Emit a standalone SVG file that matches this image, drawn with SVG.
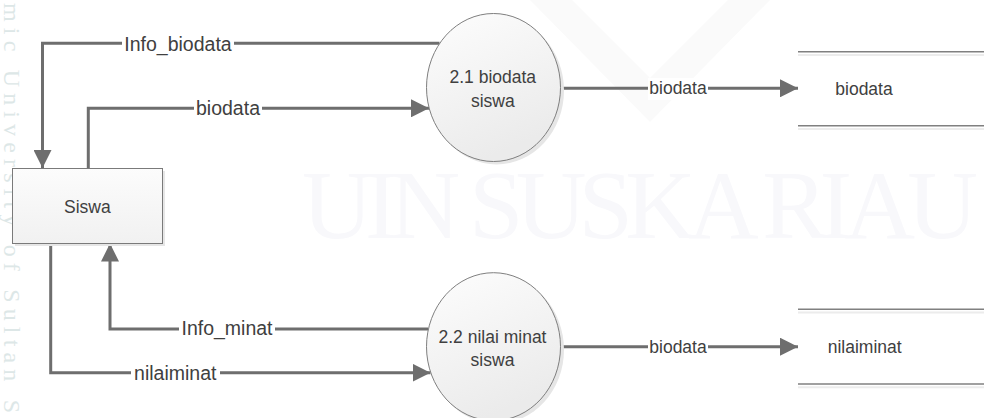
<svg xmlns="http://www.w3.org/2000/svg" width="984" height="418" viewBox="0 0 984 418">
  <style>
    .wm { font-family: "Liberation Serif", "DejaVu Serif", serif; }
    .node-text { font-family: "Liberation Sans", Arial, sans-serif; font-size: 17.5px; fill: #404040; text-anchor: middle; }
    .lbl-l { font-family: "Liberation Sans", Arial, sans-serif; font-size: 19.5px; fill: #404040; text-anchor: middle; }
    .lbl-r { font-family: "Liberation Sans", Arial, sans-serif; font-size: 17.5px; fill: #404040; text-anchor: middle; }
    .flow { fill: none; stroke: #6e6e6e; stroke-width: 3; }
    .proc { fill: url(#procGrad); stroke: #7f7f7f; stroke-width: 1; }
    .shadow { fill: #e6e6e6; }
    .store-line { stroke: #808080; stroke-width: 1.5; }
    .store-shadow { stroke: #ececec; stroke-width: 2; }
    .lblbg { fill: #ffffff; }
  </style>
  <defs>
    <linearGradient id="procGrad" x1="0" y1="0" x2="0.4" y2="1">
      <stop offset="0" stop-color="#fdfdfd"/>
      <stop offset="1" stop-color="#ebebeb"/>
    </linearGradient>
    <linearGradient id="boxGrad" x1="0" y1="0" x2="0" y2="1">
      <stop offset="0" stop-color="#fcfcfc"/>
      <stop offset="1" stop-color="#f1f1f1"/>
    </linearGradient>
    <marker id="arrow" markerUnits="userSpaceOnUse" markerWidth="18" markerHeight="18" refX="18" refY="9" orient="auto">
      <path d="M0,0 L18,9 L0,18 z" fill="#6e6e6e"/>
    </marker>
  </defs>

  <rect x="0" y="0" width="984" height="418" fill="#ffffff"/>

  <!-- faint watermark -->
  <g id="watermark">
    <polygon points="530,0 650,122 770,0 728,0 650,78 572,0" fill="#fafafa"/>
    <text class="wm" x="302" y="238" font-size="98" fill="#f8f8fb" textLength="676" lengthAdjust="spacing">UIN SUSKA RIAU</text>
    <text class="wm" transform="translate(4,3) rotate(90)" x="0" y="0" font-size="24" fill="#dde7e7" textLength="410" lengthAdjust="spacing">mic University of Sultan S</text>
  </g>

  <!-- connectors -->
  <g id="connectors">
    <polyline class="flow" points="439.5,43.3 42.5,43.3 42.5,168" marker-end="url(#arrow)"/>
    <polyline class="flow" points="88.3,168 88.3,108.3 429,108.3" marker-end="url(#arrow)"/>
    <line class="flow" x1="560.5" y1="88.3" x2="798" y2="88.3" marker-end="url(#arrow)"/>
    <polyline class="flow" points="428,329 110,329 110,243.5" marker-end="url(#arrow)"/>
    <polyline class="flow" points="50.7,243.5 50.7,372.7 430.5,372.7" marker-end="url(#arrow)"/>
    <line class="flow" x1="560.5" y1="346.7" x2="798" y2="346.7" marker-end="url(#arrow)"/>

    <rect class="lblbg" x="122" y="32" width="112" height="24"/>
    <text class="lbl-l" x="178" y="50.5">Info_biodata</text>
    <rect class="lblbg" x="194" y="97" width="68" height="24"/>
    <text class="lbl-l" x="228" y="115">biodata</text>
    <rect class="lblbg" x="179" y="318" width="96" height="24"/>
    <text class="lbl-l" x="227" y="335">Info_minat</text>
    <rect class="lblbg" x="131" y="361" width="89" height="24"/>
    <text class="lbl-l" x="175.3" y="380">nilaiminat</text>
    <rect class="lblbg" x="648" y="78" width="60" height="22"/>
    <text class="lbl-r" x="678" y="94.3">biodata</text>
    <rect class="lblbg" x="648" y="336" width="60" height="22"/>
    <text class="lbl-r" x="678" y="352.7">biodata</text>
  </g>

  <!-- external entity -->
  <g id="siswa">
    <rect x="15" y="171" width="150" height="75" class="shadow"/>
    <rect x="12.5" y="168.5" width="150" height="75" fill="url(#boxGrad)" stroke="#7a7a7a" stroke-width="1"/>
    <text class="node-text" x="87.3" y="213.3">Siswa</text>
  </g>

  <!-- process 2.1 -->
  <g id="proc-2-1">
    <ellipse cx="496.5" cy="90.5" rx="67.5" ry="74" class="shadow"/>
    <ellipse cx="493.5" cy="87.5" rx="67" ry="74" class="proc"/>
    <text class="node-text" x="492.8" y="83.3">2.1 biodata</text>
    <text class="node-text" x="492.8" y="106.7">siswa</text>
  </g>

  <!-- process 2.2 -->
  <g id="proc-2-2">
    <ellipse cx="496.5" cy="349.7" rx="67.5" ry="74" class="shadow"/>
    <ellipse cx="493.5" cy="346.7" rx="67" ry="74" class="proc"/>
    <text class="node-text" x="492.5" y="342.5">2.2 nilai minat</text>
    <text class="node-text" x="492.5" y="366">siswa</text>
  </g>

  <!-- data store biodata -->
  <g id="store-biodata">
    <line class="store-shadow" x1="798" y1="55" x2="984" y2="55"/>
    <line class="store-shadow" x1="798" y1="129" x2="984" y2="129"/>
    <line class="store-line" x1="798" y1="51.7" x2="984" y2="51.7"/>
    <line class="store-line" x1="798" y1="125.7" x2="984" y2="125.7"/>
    <text class="node-text" x="864" y="94.7">biodata</text>
  </g>

  <!-- data store nilaiminat -->
  <g id="store-nilaiminat">
    <line class="store-shadow" x1="798" y1="312.6" x2="984" y2="312.6"/>
    <line class="store-shadow" x1="798" y1="387.3" x2="984" y2="387.3"/>
    <line class="store-line" x1="798" y1="309.3" x2="984" y2="309.3"/>
    <line class="store-line" x1="798" y1="384" x2="984" y2="384"/>
    <text class="node-text" x="864.7" y="353.3">nilaiminat</text>
  </g>
</svg>
